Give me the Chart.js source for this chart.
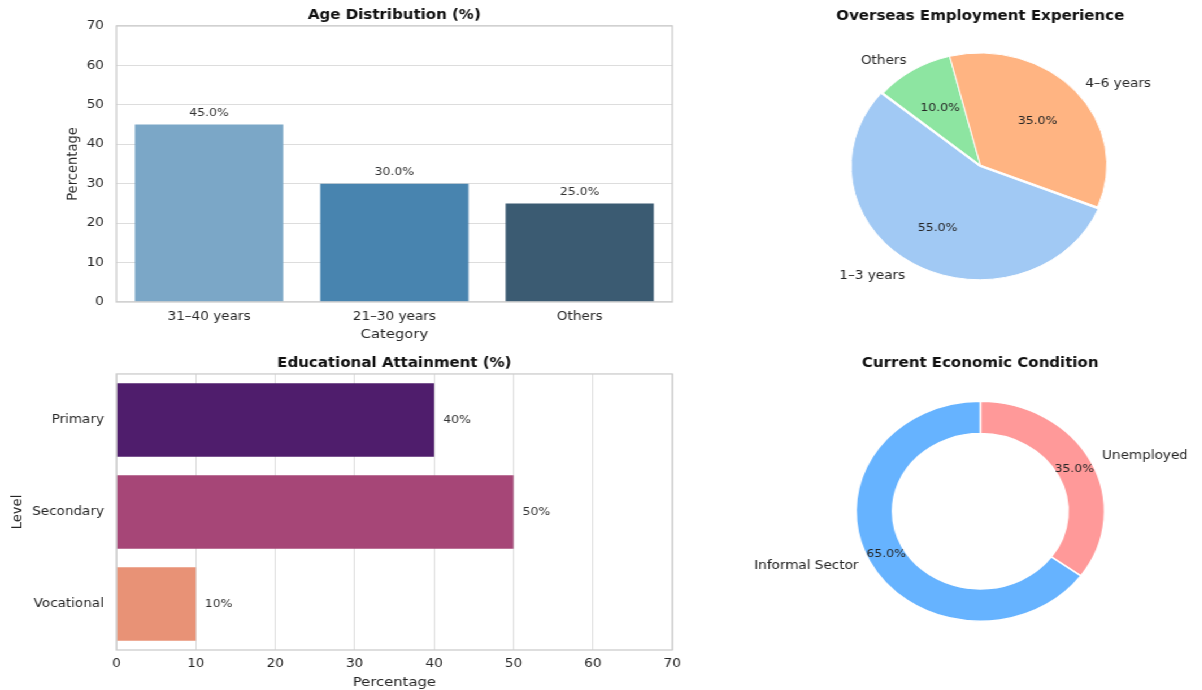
<!DOCTYPE html>
<html><head><meta charset="utf-8">
<script src="https://cdn.jsdelivr.net/npm/chart.js@4.4.0/dist/chart.umd.min.js"></script>
<style>
html,body{margin:0;padding:0;background:#fff;overflow:hidden;width:1202px;height:690px;}
#wrap{position:absolute;left:0;top:0;width:1064px;height:690px;transform:scaleX(1.13);transform-origin:0 0;}
canvas{position:absolute;}
</style></head><body>
<div id="wrap">
<canvas id="age" width="620" height="345" style="left:0;top:0"></canvas>
<canvas id="edu" width="620" height="345" style="left:0;top:345px"></canvas>
<canvas id="exp" width="415" height="345" style="left:660px;top:0"></canvas>
<canvas id="eco" width="415" height="345" style="left:660px;top:345px"></canvas>
</div>
<script>
// ---- data ----
const ageCategories = ['31–40 years', '21–30 years', 'Others'];
const ageValues = [45, 30, 25];
const percentTicks = [0, 10, 20, 30, 40, 50, 60, 70];
const eduLevels = ['Primary', 'Secondary', 'Vocational'];
const eduValues = [40, 50, 10];
const expLabels = ['1–3 years', '4–6 years', 'Others'];
const expValues = [55, 35, 10];
const ecoLabels = ['Unemployed', 'Informal Sector'];
const ecoValues = [35, 65];

// ---- styles ----
const ageColors = ['#7ba7c7', '#4884af', '#3b5b72'];
const eduColors = ['#4f1d6c', '#a64677', '#e89276'];
const expColors = ['#a1c9f4', '#ffb482', '#8de5a1'];
const expExplode = [6, 0, 0];
const ecoColors = ['#ff9999', '#66b3ff'];

const FONT = "'DejaVu Sans', 'Liberation Sans', sans-serif";
Chart.defaults.font.family = FONT;
Chart.defaults.color = '#262626';

const tickMin = percentTicks[0];
const tickMax = percentTicks[percentTicks.length - 1];
const tickStep = percentTicks[1] - percentTicks[0];

const frame = {
  id: 'frame',
  afterDatasetsDraw(chart) {
    const a = chart.chartArea, ctx = chart.ctx;
    ctx.save();
    ctx.strokeStyle = '#cccccc';
    ctx.lineWidth = 1.3;
    ctx.strokeRect(a.left, a.top, a.right - a.left, a.bottom - a.top);
    ctx.restore();
  }
};

const barLabels = {
  id: 'barLabels',
  afterDatasetsDraw(chart, args, opts) {
    const ctx = chart.ctx;
    const meta = chart.getDatasetMeta(0);
    const data = chart.data.datasets[0].data;
    ctx.save();
    ctx.font = '11px ' + FONT;
    ctx.fillStyle = '#333333';
    ctx.textBaseline = 'middle';
    meta.data.forEach((bar, i) => {
      if (opts.horizontal) {
        ctx.textAlign = 'left';
        ctx.fillText(data[i] + '%', bar.x + 8, bar.y);
      } else {
        ctx.textAlign = 'center';
        ctx.fillText(data[i].toFixed(1) + '%', bar.x, bar.y - 11.5);
      }
    });
    ctx.restore();
  }
};

const pieLabels = {
  id: 'pieLabels',
  afterDatasetsDraw(chart, args, opts) {
    const ctx = chart.ctx;
    const meta = chart.getDatasetMeta(0);
    const ds = chart.data.datasets[0];
    const total = ds.data.reduce((a, b) => a + b, 0);
    meta.data.forEach((arc, i) => {
      const p = arc.getProps(['x', 'y', 'startAngle', 'endAngle', 'outerRadius'], true);
      const mid = (p.startAngle + p.endAngle) / 2;
      const c = Math.cos(mid), s = Math.sin(mid);
      const off = Array.isArray(ds.offset) ? (ds.offset[i] || 0) : (ds.offset || 0);
      const cx = p.x + c * off, cy = p.y + s * off;
      const r = p.outerRadius;
      ctx.save();
      ctx.textBaseline = 'middle';
      ctx.fillStyle = '#262626';
      ctx.font = '12px ' + FONT;
      ctx.textAlign = c < 0 ? 'right' : 'left';
      ctx.fillText(chart.data.labels[i], cx + c * r * opts.labelDist, cy + s * r * opts.labelDist);
      ctx.font = '11px ' + FONT;
      ctx.textAlign = 'center';
      ctx.fillText((ds.data[i] / total * 100).toFixed(1) + '%', cx + c * r * opts.pctDist, cy + s * r * opts.pctDist);
      ctx.restore();
    });
  }
};

function titleOpts(text, top, bottom) {
  return {display: true, text: text, fullSize: false, color: '#111111',
    font: {size: 13.3, weight: 'bold', lineHeight: 1.2}, padding: {top: top, bottom: bottom}};
}

// ---- Age distribution ----
new Chart(document.getElementById('age'), {
  type: 'bar',
  data: {labels: ageCategories, datasets: [{data: ageValues, backgroundColor: ageColors,
    barPercentage: 0.8, categoryPercentage: 1}]},
  options: {
    responsive: false, animation: false,
    layout: {padding: {left: 0, right: 25, top: 0, bottom: 0}},
    scales: {
      x: {grid: {display: false, drawTicks: false}, border: {display: false},
        ticks: {padding: 8, font: {size: 12}, color: '#262626'},
        title: {display: true, text: 'Category', font: {size: 13.1}, color: '#262626', padding: {top: 2, bottom: 3}},
        afterFit: (s) => { s.height = 43; }},
      y: {min: tickMin, max: tickMax, ticks: {stepSize: tickStep, padding: 11, font: {size: 12}, color: '#262626'},
        grid: {color: '#dddddd', lineWidth: 1, drawTicks: false}, border: {display: false},
        title: {display: true, text: 'Percentage', font: {size: 13.1}, color: '#262626', padding: {top: 56.7, bottom: 0}},
        afterFit: (s) => { s.width = 103; }}
    },
    plugins: {legend: {display: false}, tooltip: {enabled: false},
      title: titleOpts('Age Distribution (%)', 8, 2), barLabels: {horizontal: false}}
  },
  plugins: [frame, barLabels]
});

// ---- Educational attainment ----
new Chart(document.getElementById('edu'), {
  type: 'bar',
  data: {labels: eduLevels, datasets: [{data: eduValues, backgroundColor: eduColors,
    barPercentage: 0.8, categoryPercentage: 1}]},
  options: {
    indexAxis: 'y',
    responsive: false, animation: false,
    layout: {padding: {left: 0, right: 25, top: 0, bottom: 0}},
    scales: {
      x: {min: tickMin, max: tickMax, ticks: {stepSize: tickStep, padding: 7, font: {size: 12}, color: '#262626'},
        grid: {color: '#dddddd', lineWidth: 1, drawTicks: false}, border: {display: false},
        title: {display: true, text: 'Percentage', font: {size: 13.1}, color: '#262626', padding: {top: 3, bottom: 0}},
        afterFit: (s) => { s.height = 40; }},
      y: {grid: {display: false, drawTicks: false}, border: {display: false},
        ticks: {padding: 11, font: {size: 12}, color: '#262626'},
        title: {display: true, text: 'Level', font: {size: 13.1}, color: '#262626', padding: {top: 8, bottom: 0}},
        afterFit: (s) => { s.width = 103; }}
    },
    plugins: {legend: {display: false}, tooltip: {enabled: false},
      title: titleOpts('Educational Attainment (%)', 11, 2), barLabels: {horizontal: true}}
  },
  plugins: [frame, barLabels]
});

// ---- Overseas employment (source order is counter-clockwise; Chart.js draws clockwise) ----
const expOrder = [2, 1, 0];
new Chart(document.getElementById('exp'), {
  type: 'pie',
  data: {labels: expOrder.map(i => expLabels[i]), datasets: [{
    data: expOrder.map(i => expValues[i]),
    backgroundColor: expOrder.map(i => expColors[i]),
    offset: expOrder.map(i => expExplode[i]),
    borderColor: '#ffffff', borderWidth: 1, hoverOffset: 0}]},
  options: {
    responsive: false, animation: false,
    rotation: -50, radius: 112,
    layout: {padding: {left: 0, right: 0, top: 0, bottom: 42}},
    plugins: {legend: {display: false}, tooltip: {enabled: false},
      title: titleOpts('Overseas Employment Experience', 9, 2),
      pieLabels: {labelDist: 1.1, pctDist: 0.6}}
  },
  plugins: [pieLabels]
});

// ---- Current economic condition ----
new Chart(document.getElementById('eco'), {
  type: 'doughnut',
  data: {labels: ecoLabels, datasets: [{data: ecoValues, backgroundColor: ecoColors,
    borderColor: '#ffffff', borderWidth: 1.5, hoverOffset: 0}]},
  options: {
    responsive: false, animation: false,
    rotation: 0, radius: 110, cutout: '70.6%',
    layout: {padding: {left: 0, right: 0, top: 0, bottom: 41.4}},
    plugins: {legend: {display: false}, tooltip: {enabled: false},
      title: titleOpts('Current Economic Condition', 11, 2),
      pieLabels: {labelDist: 1.1, pctDist: 0.85}}
  },
  plugins: [pieLabels]
});
</script>
</body></html>
